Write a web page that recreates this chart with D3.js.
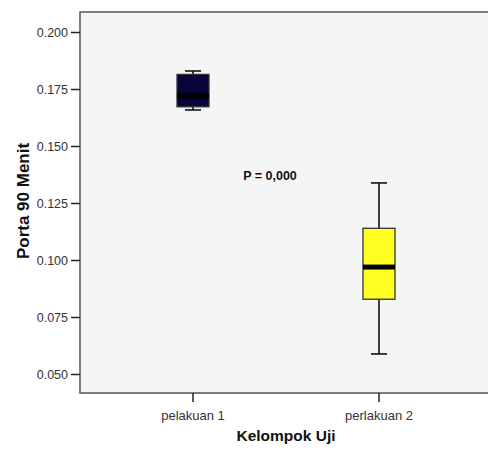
<!DOCTYPE html>
<html>
<head>
<meta charset="utf-8">
<script src="https://cdn.jsdelivr.net/npm/d3@7"></script>
<style>
  body { margin: 0; background: #fff; }
  text { font-family: "Liberation Sans", Arial, sans-serif; }
</style>
</head>
<body>
<div class="chart"></div>
<script>
const groups = ["pelakuan 1", "perlakuan 2"];
const whiskerLow = [0.1658, 0.0588];
const q1 = [0.1672, 0.0828];
const median = [0.1719, 0.0969];
const q3 = [0.1814, 0.1139];
const whiskerHigh = [0.1829, 0.1338];
const boxColors = ["#06063a", "#ffff22"];
const yTicks = [0.050, 0.075, 0.100, 0.125, 0.150, 0.175, 0.200];

const width = 488, height = 449;
const frame = {left: 80, right: 500, top: 12, bottom: 393};

const svg = d3.select('.chart')
  .append('svg')
  .attr('width', width)
  .attr('height', height);

const xScale = d3.scaleBand()
  .domain(groups)
  .range([100, 472]);

const yScale = d3.scaleLinear()
  .domain([0.050, 0.200])
  .range([374, 32]);

// plot area
svg.append('rect')
  .attr('x', frame.left)
  .attr('y', frame.top)
  .attr('width', frame.right - frame.left)
  .attr('height', frame.bottom - frame.top)
  .attr('fill', '#f5f5f5')
  .attr('stroke', '#555')
  .attr('stroke-width', 1.5);

const yAxis = d3.axisLeft(yScale)
  .tickValues(yTicks)
  .tickFormat(d3.format('.3f'))
  .tickSize(9)
  .tickPadding(3);

const yG = svg.append('g')
  .attr('transform', 'translate(' + frame.left + ',0)')
  .call(yAxis);
yG.select('.domain').remove();

const xAxis = d3.axisBottom(xScale)
  .tickSize(9)
  .tickPadding(9);

const xG = svg.append('g')
  .attr('transform', 'translate(0,' + frame.bottom + ')')
  .call(xAxis);
xG.select('.domain').remove();

svg.selectAll('.tick line').attr('stroke', '#222').attr('stroke-width', 1.5);
yG.selectAll('.tick text')
  .attr('fill', '#333')
  .style('font-size', '12.5px');
xG.selectAll('.tick text')
  .attr('fill', '#333')
  .style('font-size', '13px');
svg.selectAll('.tick text')
  .style('font-family', '"Liberation Sans", Arial, sans-serif');

const bw = 32, cap = 16;
const boxes = svg.append('g').selectAll('g')
  .data(groups)
  .join('g')
  .attr('transform', d => 'translate(' + (xScale(d) + xScale.bandwidth() / 2) + ',0)');

boxes.append('line')
  .attr('x1', 0).attr('x2', 0)
  .attr('y1', (d, i) => yScale(whiskerHigh[i]))
  .attr('y2', (d, i) => yScale(whiskerLow[i]))
  .attr('stroke', '#111').attr('stroke-width', 1.6);

boxes.append('line')
  .attr('x1', -cap / 2).attr('x2', cap / 2)
  .attr('y1', (d, i) => yScale(whiskerHigh[i]))
  .attr('y2', (d, i) => yScale(whiskerHigh[i]))
  .attr('stroke', '#111').attr('stroke-width', 1.6);

boxes.append('line')
  .attr('x1', -cap / 2).attr('x2', cap / 2)
  .attr('y1', (d, i) => yScale(whiskerLow[i]))
  .attr('y2', (d, i) => yScale(whiskerLow[i]))
  .attr('stroke', '#111').attr('stroke-width', 1.6);

boxes.append('rect')
  .attr('x', -bw / 2)
  .attr('width', bw)
  .attr('y', (d, i) => yScale(q3[i]))
  .attr('height', (d, i) => yScale(q1[i]) - yScale(q3[i]))
  .attr('fill', (d, i) => boxColors[i])
  .attr('stroke', '#333')
  .attr('stroke-width', 1.3);

boxes.append('line')
  .attr('x1', -bw / 2).attr('x2', bw / 2)
  .attr('y1', (d, i) => yScale(median[i]))
  .attr('y2', (d, i) => yScale(median[i]))
  .attr('stroke', '#000').attr('stroke-width', 5);

svg.append('text')
  .attr('x', 270)
  .attr('y', 180)
  .attr('text-anchor', 'middle')
  .style('font-size', '12.5px')
  .style('font-weight', 'bold')
  .attr('fill', '#111')
  .text('P = 0,000');

svg.append('text')
  .attr('x', 286)
  .attr('y', 441)
  .attr('text-anchor', 'middle')
  .style('font-size', '15.5px')
  .style('font-weight', 'bold')
  .attr('fill', '#111')
  .text('Kelompok Uji');

svg.append('text')
  .attr('transform', 'translate(29,201) rotate(-90)')
  .attr('text-anchor', 'middle')
  .style('font-size', '17px')
  .style('font-weight', 'bold')
  .attr('fill', '#111')
  .text('Porta 90 Menit');
</script>
</body>
</html>
